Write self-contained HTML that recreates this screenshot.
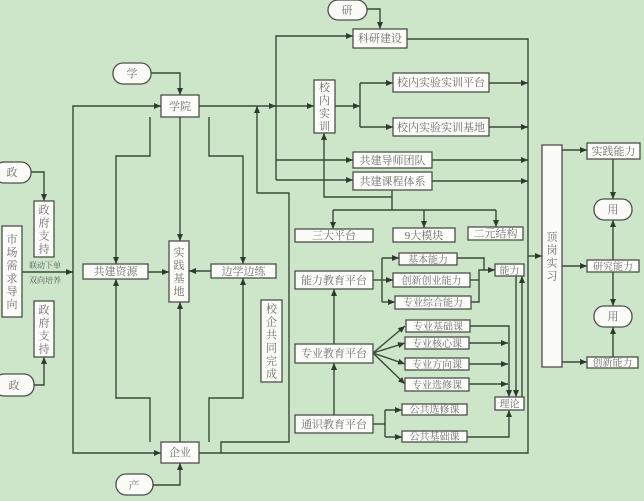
<!DOCTYPE html>
<html><head><meta charset="utf-8">
<style>
html,body{margin:0;padding:0;background:#cde6ca;}
svg{display:block;}
text{font-family:"Liberation Serif","Noto Serif CJK SC","Noto Sans CJK SC",serif;font-size:11px;fill:#6e6e6e;}
.s{font-size:8px;fill:#5a5a5a;}
.m{font-size:10px;}
</style></head>
<body>
<svg width="644" height="501" viewBox="0 0 644 501" xmlns="http://www.w3.org/2000/svg">
<defs>
<marker id="a" markerWidth="7" markerHeight="6" refX="7" refY="3" orient="auto" markerUnits="userSpaceOnUse">
<path d="M0,0 L7,3 L0,6 z" fill="#2e3b2e"/>
</marker>
</defs>
<rect x="0" y="0" width="644" height="501" fill="#cde6ca"/>

<g fill="none" stroke="#3a4a39" stroke-width="1.4">
<path d="M31,172 H44 V201" marker-end="url(#a)"/>
<path d="M22,272 H73" marker-end="url(#a)"/>
<path d="M34,385 H44 V357" marker-end="url(#a)"/>
<path d="M73,280 V106 H161" marker-end="url(#a)"/>
<path d="M73,280 V453 H161" marker-end="url(#a)"/>
<path d="M151,73 H180 V95" marker-end="url(#a)"/>
<path d="M150,117 V156 H116 V264" marker-end="url(#a)"/>
<path d="M180,117 V241" marker-end="url(#a)"/>
<path d="M209,117 V156 H243 V264" marker-end="url(#a)"/>
<path d="M148,272 H169" marker-end="url(#a)"/>
<path d="M211,271 H189" marker-end="url(#a)"/>
<path d="M150,442 V398 H116 V279" marker-end="url(#a)"/>
<path d="M180,442 V302" marker-end="url(#a)"/>
<path d="M209,442 V398 H243 V278" marker-end="url(#a)"/>
<path d="M153,485 H180 V463" marker-end="url(#a)"/>
<path d="M199,106 H276" marker-end="url(#a)"/>
<path d="M270,106 H314" marker-end="url(#a)"/>
<path d="M406,39 H528 V453 H199"/>
<path d="M528,256 H542" marker-end="url(#a)"/>
<path d="M221,453 V442 H289 V193 H257 V106" marker-end="url(#a)"/>
<path d="M276,180 V36 H353" marker-end="url(#a)"/>
<path d="M276,160 H353" marker-end="url(#a)"/>
<path d="M276,180 H353" marker-end="url(#a)"/>
<path d="M367,9 H380 V29" marker-end="url(#a)"/>
<path d="M335,106 H360" marker-end="url(#a)"/>
<path d="M360,83 V127"/>
<path d="M360,83 H393" marker-end="url(#a)"/>
<path d="M360,127 H393" marker-end="url(#a)"/>
<path d="M489,83 H528" marker-end="url(#a)"/>
<path d="M489,127 H528" marker-end="url(#a)"/>
<path d="M432,160 H528" marker-end="url(#a)"/>
<path d="M432,181 H528" marker-end="url(#a)"/>
<path d="M392,197 H324 V133" marker-end="url(#a)"/>
<path d="M392,190 V210"/>
<path d="M333,210 H496"/>
<path d="M333,210 V229" marker-end="url(#a)"/>
<path d="M424,210 V228" marker-end="url(#a)"/>
<path d="M496,210 V227" marker-end="url(#a)"/>
<path d="M334,415 V363" marker-end="url(#a)"/>
<path d="M334,344 V289" marker-end="url(#a)"/>
<path d="M373,280 H382"/>
<path d="M382,258 V302"/>
<path d="M382,258 H399" marker-end="url(#a)"/>
<path d="M382,280 H393" marker-end="url(#a)"/>
<path d="M382,302 H395" marker-end="url(#a)"/>
<path d="M457,258 H484 V270"/>
<path d="M470,280 H479"/>
<path d="M471,302 H479 V270 H495" marker-end="url(#a)"/>
<path d="M373,353 L405,326" marker-end="url(#a)"/>
<path d="M373,353 L405,343" marker-end="url(#a)"/>
<path d="M373,353 L405,364" marker-end="url(#a)"/>
<path d="M373,353 L405,384" marker-end="url(#a)"/>
<path d="M470,326 H509 V397" marker-end="url(#a)"/>
<path d="M469,343 H508" marker-end="url(#a)"/>
<path d="M469,364 H508" marker-end="url(#a)"/>
<path d="M469,384 H508" marker-end="url(#a)"/>
<path d="M516,276 V397" marker-end="url(#a)"/>
<path d="M522,397 V276" marker-end="url(#a)"/>
<path d="M373,424 H385"/>
<path d="M385,410 V437"/>
<path d="M385,410 H402" marker-end="url(#a)"/>
<path d="M385,437 H402" marker-end="url(#a)"/>
<path d="M467,437 H509 V410" marker-end="url(#a)"/>
<path d="M562,150 H587" marker-end="url(#a)"/>
<path d="M613,159 V199" marker-end="url(#a)"/>
<path d="M562,266 H587" marker-end="url(#a)"/>
<path d="M613,260 V220" marker-end="url(#a)"/>
<path d="M613,272 V306" marker-end="url(#a)"/>
<path d="M562,362 H587" marker-end="url(#a)"/>
<path d="M613,357 V327" marker-end="url(#a)"/>
</g>

<g fill="#fbfbf8" stroke="#4a4f49" stroke-width="1.3">
<rect x="-6" y="162" width="37" height="21" rx="10"/>
<rect x="-6" y="374" width="40" height="22" rx="10"/>
<rect x="113" y="63" width="38" height="21" rx="10"/>
<rect x="116" y="474" width="37" height="21" rx="10"/>
<rect x="328" y="0" width="39" height="20" rx="10"/>
<rect x="594" y="199" width="38" height="21" rx="10"/>
<rect x="594" y="306" width="38" height="21" rx="10"/>
<rect x="34" y="201" width="20" height="56"/>
<rect x="2" y="226" width="20" height="91"/>
<rect x="34" y="301" width="20" height="56"/>
<rect x="161" y="95" width="38" height="22"/>
<rect x="83" y="264" width="65" height="15"/>
<rect x="169" y="241" width="20" height="61"/>
<rect x="211" y="264" width="65" height="14"/>
<rect x="161" y="442" width="38" height="21"/>
<rect x="261" y="300" width="21" height="82"/>
<rect x="353" y="29" width="54" height="19"/>
<rect x="314" y="80" width="21" height="53"/>
<rect x="393" y="73" width="96" height="19"/>
<rect x="393" y="118" width="96" height="18"/>
<rect x="353" y="152" width="79" height="16"/>
<rect x="353" y="172" width="79" height="18"/>
<rect x="295" y="229" width="78" height="13"/>
<rect x="393" y="228" width="62" height="14"/>
<rect x="468" y="227" width="55" height="13"/>
<rect x="295" y="271" width="78" height="18"/>
<rect x="295" y="344" width="78" height="19"/>
<rect x="295" y="415" width="78" height="18"/>
<rect x="399" y="253" width="58" height="12"/>
<rect x="393" y="273" width="77" height="14"/>
<rect x="395" y="296" width="76" height="13"/>
<rect x="495" y="264" width="29" height="12"/>
<rect x="406" y="320" width="64" height="12"/>
<rect x="405" y="337" width="64" height="12"/>
<rect x="405" y="358" width="64" height="12"/>
<rect x="405" y="378" width="64" height="13"/>
<rect x="402" y="404" width="65" height="11"/>
<rect x="402" y="431" width="65" height="11"/>
<rect x="495" y="397" width="29" height="13"/>
<rect x="542" y="145" width="20" height="222"/>
<rect x="587" y="143" width="53" height="16"/>
<rect x="587" y="260" width="52" height="12"/>
<rect x="587" y="357" width="51" height="11"/>
</g>

<g text-anchor="middle">
<text x="12" y="176">政</text>
<text x="14" y="389">政</text>
<text x="132" y="77">学</text>
<text x="134" y="489">产</text>
<text x="347" y="14">研</text>
<text x="613" y="213">用</text>
<text x="613" y="320">用</text>

<text class="s" x="45" y="268">联动下单</text>
<text class="s" x="45" y="283">双向培养</text>

<text x="180" y="110">学院</text>
<text x="115.5" y="275">共建资源</text>
<text x="243.5" y="275">边学边练</text>
<text x="180" y="456">企业</text>
<text x="380" y="42">科研建设</text>
<text x="441" y="86">校内实验实训平台</text>
<text x="441" y="131">校内实验实训基地</text>
<text x="392.5" y="164">共建导师团队</text>
<text x="392.5" y="185">共建课程体系</text>
<text x="334" y="239">三大平台</text>
<text x="424" y="239">9大模块</text>
<text x="495.5" y="237">二元结构</text>
<text x="334" y="284">能力教育平台</text>
<text x="334" y="357">专业教育平台</text>
<text x="334" y="428">通识教育平台</text>
<text class="m" x="428" y="263">基本能力</text>
<text class="m" x="431.5" y="284">创新创业能力</text>
<text class="m" x="433" y="306">专业综合能力</text>
<text class="m" x="509.5" y="274">能力</text>
<text class="m" x="438" y="330">专业基础课</text>
<text class="m" x="437" y="347">专业核心课</text>
<text class="m" x="437" y="368">专业方向课</text>
<text class="m" x="437" y="388.5">专业选修课</text>
<text class="m" x="434.5" y="413">公共选修课</text>
<text class="m" x="434.5" y="440">公共基础课</text>
<text class="m" x="509.5" y="407.5">理论</text>
<text x="613.5" y="155">实践能力</text>
<text class="m" x="613" y="270">研究能力</text>
<text class="m" x="612.5" y="366">创新能力</text>

<text x="12" y="243">市</text><text x="12" y="256">场</text><text x="12" y="269">需</text><text x="12" y="282">求</text><text x="12" y="295">导</text><text x="12" y="308">向</text>
<text x="44" y="213.5">政</text><text x="44" y="226.5">府</text><text x="44" y="239.5">支</text><text x="44" y="252.5">持</text>
<text x="44" y="313.5">政</text><text x="44" y="326.5">府</text><text x="44" y="339.5">支</text><text x="44" y="352.5">持</text>
<text x="179" y="256">实</text><text x="179" y="269">践</text><text x="179" y="282">基</text><text x="179" y="295">地</text>
<text x="324.5" y="91">校</text><text x="324.5" y="104">内</text><text x="324.5" y="117">实</text><text x="324.5" y="130">训</text>
<text x="271.5" y="312.5">校</text><text x="271.5" y="325.5">企</text><text x="271.5" y="338.5">共</text><text x="271.5" y="351.5">同</text><text x="271.5" y="364.5">完</text><text x="271.5" y="377.5">成</text>
<text x="552" y="240.5">顶</text><text x="552" y="253.5">岗</text><text x="552" y="266.5">实</text><text x="552" y="279.5">习</text>
</g>
</svg>
</body></html>
